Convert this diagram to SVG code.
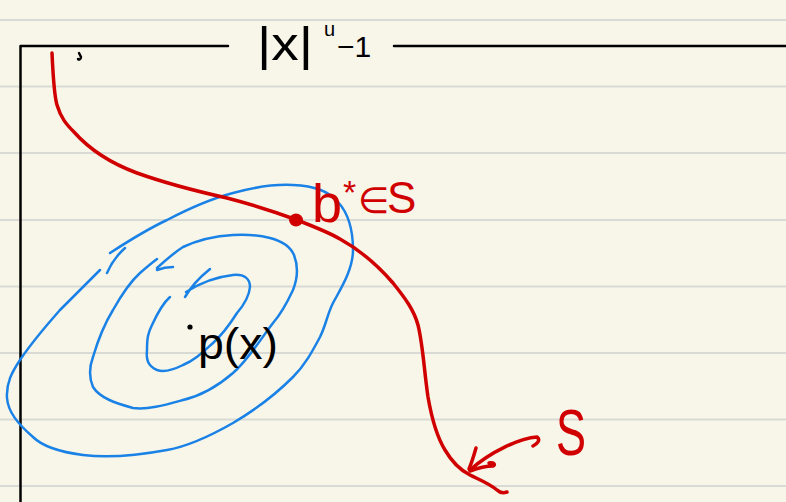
<svg xmlns="http://www.w3.org/2000/svg" width="786" height="502" viewBox="0 0 786 502">
<style>
.rule{stroke:#d9d9d6;stroke-width:2}
.ink{fill:none;stroke-linecap:round;stroke-linejoin:round}
.blue{stroke:#1a82e6;stroke-width:2.5}
.red{stroke:#d00000;stroke-width:3.5}
.blk{stroke:#000;stroke-width:2.5}
.t{font-family:"Liberation Sans","DejaVu Sans",sans-serif}
</style>
<rect width="786" height="502" fill="#f8f6e9"/>
<g id="rules">
<line class="rule" x1="0" y1="20" x2="786" y2="20"/>
<line class="rule" x1="0" y1="86.5" x2="786" y2="86.5"/>
<line class="rule" x1="0" y1="153" x2="786" y2="153"/>
<line class="rule" x1="0" y1="220" x2="786" y2="220"/>
<line class="rule" x1="0" y1="286.5" x2="786" y2="286.5"/>
<line class="rule" x1="0" y1="353" x2="786" y2="353"/>
<line class="rule" x1="0" y1="419.5" x2="786" y2="419.5"/>
<line class="rule" x1="0" y1="486" x2="786" y2="486"/>
</g>
<g id="frame">
<path class="ink blk" d="M20.5,502 L20.5,46 L228,46"/>
<path class="ink blk" d="M394,46 L786,46"/>
<path class="ink blk" d="M79,53 L81,57 C81,60 78,60 78,59" stroke-width="3"/>
<text class="t" font-size="46" y="60"><tspan x="257" textLength="56" lengthAdjust="spacingAndGlyphs">|x|</tspan><tspan x="324" y="36" font-size="20">u</tspan><tspan x="337" y="57" font-size="30">−1</tspan></text>
</g>
<g id="contours">
<path class="ink blue" d="M107,273 C110,266 116,256 125,248 M110,253 C130,240 150,228 167,220 C190,208 210,199 233,193 C255,187 275,184 293,185 C315,186 328,191 338,202 C348,213 353,228 353,250 C353,270 340,290 333,303 C327,315 326,325 320,337 C312,352 305,365 293,377 C275,395 255,410 233,423 C212,435 190,446 167,450 C140,455 108,458 83,455 C60,452 42,446 33,437 C18,424 8,412 7,398 C6,383 12,372 20,360 C32,342 45,327 60,310 C75,295 88,282 100,270"/>
<path class="ink blue" d="M157,270 C162,268 168,267 173,267 M157,268 C168,258 175,252 183,247 C198,240 215,236 233,235 C250,234 262,236 270,238 C282,241 290,246 294,255 C299,268 297,280 293,290 C286,305 280,315 273,323 C260,340 248,360 233,373 C218,386 200,396 183,400 C165,405 148,410 133,408 C115,403 100,398 93,387 C88,375 90,365 93,357 C98,340 105,323 113,310 C122,294 130,282 140,273 C148,266 153,262 157,259"/>
<path class="ink blue" d="M185,297 C192,285 200,277 210,269 M186,292 C200,283 215,277 233,275 C245,274 250,279 250,287 C249,298 243,306 237,313 C230,324 222,335 213,343 C203,352 195,360 183,365 C173,370 163,372 157,370 C148,366 146,360 147,350 C147,338 148,333 152,325 C158,312 163,303 170,297"/>
</g>
<g id="pointP">
<circle cx="190" cy="327" r="2.6" fill="#000"/>
<text class="t" font-size="44" x="198" y="359" textLength="80" lengthAdjust="spacingAndGlyphs">p(x)</text>
</g>
<g id="connectors">
<path class="ink red" d="M52,53 C53,75 54,95 57,105 C61,118 66,124 74,132 C90,150 110,163 137,173 C165,183 200,192 227,198 C250,204 270,210 297,220 C315,227 330,233 340,239 C360,250 380,268 393,283 C405,298 414,310 418,325 C423,345 424,370 428,397 C432,420 437,437 445,450 C452,462 460,470 470,475 C480,480 490,484 497,490 C500,493 504,493 507,492"/>
<path class="ink red" d="M533,446 C537,444 541,440 537,437 C520,438 490,452 470,470"/>
<path class="ink red" d="M476,448 C474,455 472,462 469,469"/>
<path class="ink red" d="M470,471 C478,468 486,466 493,466 C496,465 494,462 489,463"/>
</g>
<g id="bstar">
<ellipse cx="296" cy="220" rx="7" ry="6.5" fill="#d00000"/>
<text class="t" fill="#d00000"><tspan x="312" y="222" font-size="54">b</tspan><tspan x="343" y="204" font-size="34">*</tspan><tspan x="358" y="213" font-size="36">∈</tspan><tspan x="387" y="213" font-size="44">S</tspan></text>
</g>
<g id="labelS">
<text class="t" fill="#d00000" font-size="64" x="556" y="455" textLength="30" lengthAdjust="spacingAndGlyphs">S</text>
</g>
</svg>
